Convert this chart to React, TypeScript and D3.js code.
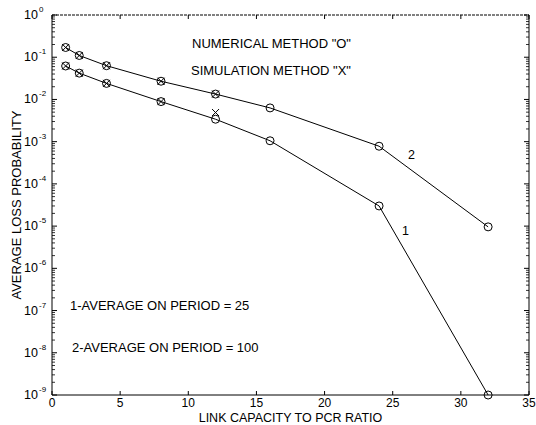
import React from "react";
import * as d3 from "d3";

const xValues = [1, 2, 4, 8, 12, 16, 24, 32];
const series1 = [0.062, 0.042, 0.024, 0.0089, 0.0034, 0.00105, 3.0e-5, 1e-9];
const series2 = [0.17, 0.11, 0.063, 0.027, 0.0134, 0.0063, 7.8e-4, 9.6e-6];
const simX1 = [1, 2, 4, 8, 12];
const simY1 = [0.062, 0.042, 0.024, 0.0089, 0.0049];
const simX2 = [1, 2, 4, 8, 12];
const simY2 = [0.17, 0.11, 0.063, 0.027, 0.0134];
const xTicks = [0, 5, 10, 15, 20, 25, 30, 35];
const yExponents = [0, -1, -2, -3, -4, -5, -6, -7, -8, -9];

const W = 536, H = 425;
const L = 52, R = 529, T = 15, B = 395;
const FONT = "Liberation Sans, Arial, sans-serif";

export default function App() {
  const x = d3.scaleLinear().domain([0, 35]).range([L, R]);
  const y = d3.scaleLog().domain([1e-9, 1]).range([B, T]);
  const line = d3.line<[number, number]>().x(d => x(d[0])).y(d => y(d[1]));
  const pts1: [number, number][] = xValues.map((v, i) => [v, series1[i]]);
  const pts2: [number, number][] = xValues.map((v, i) => [v, series2[i]]);

  const minor: number[] = [];
  for (let e = -9; e < 0; e++) for (let m = 2; m <= 9; m++) minor.push(m * Math.pow(10, e));

  const xm = (cx: number, cy: number, k: string) => (
    <g key={k}>
      <line x1={cx - 3.5} y1={cy - 3.5} x2={cx + 3.5} y2={cy + 3.5} stroke="#000" strokeWidth={1} />
      <line x1={cx - 3.5} y1={cy + 3.5} x2={cx + 3.5} y2={cy - 3.5} stroke="#000" strokeWidth={1} />
    </g>
  );

  return (
    <svg width={W} height={H} style={{ position: "absolute", left: 0, top: 0, background: "#fff" }} fontFamily={FONT}>
      <rect x={0} y={0} width={W} height={H} fill="#fff" />
      {/* frame */}
      <line x1={L} y1={B} x2={R} y2={B} stroke="#000" />
      <line x1={L} y1={T} x2={L} y2={B} stroke="#000" />
      <line x1={R} y1={T} x2={R} y2={B} stroke="#000" />
      <line x1={L} y1={T} x2={R} y2={T} stroke="#000" strokeDasharray="3,1" />
      {/* x ticks */}
      {xTicks.map(t => (
        <g key={"xt" + t}>
          <line x1={x(t)} x2={x(t)} y1={B} y2={B - 4} stroke="#000" />
          <line x1={x(t)} x2={x(t)} y1={T} y2={T + 4} stroke="#000" />
          <text x={x(t)} y={407} fontSize={12} textAnchor="middle">{t}</text>
        </g>
      ))}
      {/* y ticks */}
      {yExponents.map(e => (
        <g key={"yt" + e}>
          <line x1={L} x2={L + 5} y1={y(Math.pow(10, e))} y2={y(Math.pow(10, e))} stroke="#000" />
          <line x1={R} x2={R - 5} y1={y(Math.pow(10, e))} y2={y(Math.pow(10, e))} stroke="#000" />
          <text x={38} y={y(Math.pow(10, e)) + 4} fontSize={12.5} textAnchor="end">10</text>
          <text x={39} y={y(Math.pow(10, e)) - 3} fontSize={8} textAnchor="start">{e === 0 ? "0" : "-" + Math.abs(e)}</text>
        </g>
      ))}
      {minor.map((v, i) => (
        <g key={"mn" + i}>
          <line x1={L} x2={L + 3} y1={y(v)} y2={y(v)} stroke="#000" strokeWidth={0.8} />
          <line x1={R} x2={R - 3} y1={y(v)} y2={y(v)} stroke="#000" strokeWidth={0.8} />
        </g>
      ))}
      {/* lines */}
      <path d={line(pts1) || ""} fill="none" stroke="#000" strokeWidth={1} />
      <path d={line(pts2) || ""} fill="none" stroke="#000" strokeWidth={1} />
      {pts1.map((p, i) => <circle key={"c1" + i} cx={x(p[0])} cy={y(p[1])} r={4} fill="none" stroke="#000" />)}
      {pts2.map((p, i) => <circle key={"c2" + i} cx={x(p[0])} cy={y(p[1])} r={4} fill="none" stroke="#000" />)}
      {simX1.map((v, i) => xm(x(v), y(simY1[i]), "s1" + i))}
      {simX2.map((v, i) => xm(x(v), y(simY2[i]), "s2" + i))}
      {/* annotations */}
      <text x={192} y={48} fontSize={13}>NUMERICAL METHOD "O"</text>
      <text x={191} y={75} fontSize={13}>SIMULATION METHOD "X"</text>
      <text x={70} y={310} fontSize={13}>1-AVERAGE ON PERIOD = 25</text>
      <text x={72} y={352} fontSize={13}>2-AVERAGE ON PERIOD = 100</text>
      <text x={408} y={159} fontSize={12.5}>2</text>
      <text x={402} y={235} fontSize={12.5}>1</text>
      {/* axis labels */}
      <text x={(L + R) / 2} y={421.5} fontSize={12.5} textAnchor="middle">LINK CAPACITY TO PCR RATIO</text>
      <text transform={`translate(21,${(T + B) / 2}) rotate(-90)`} fontSize={13} textAnchor="middle">AVERAGE LOSS PROBABILITY</text>
    </svg>
  );
}
